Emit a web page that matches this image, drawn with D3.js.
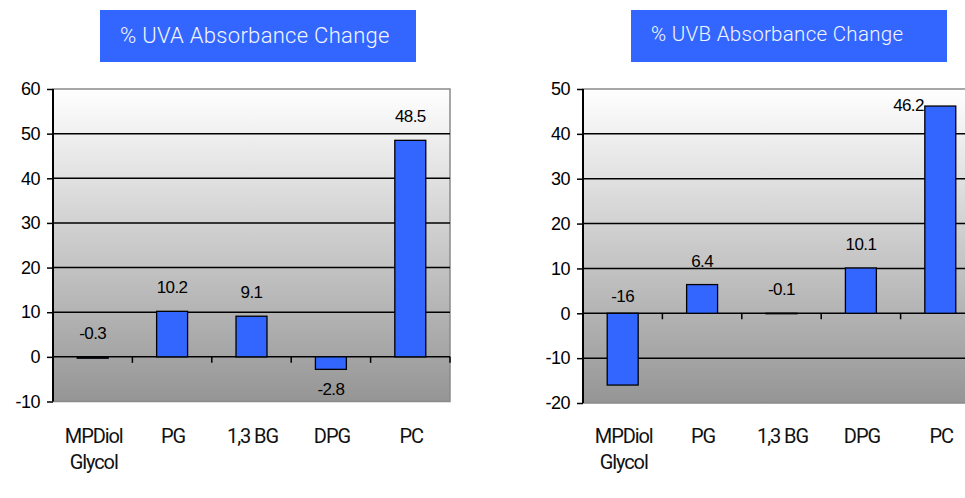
<!DOCTYPE html>
<html>
<head>
<meta charset="utf-8">
<script src="https://cdn.jsdelivr.net/npm/d3@7/dist/d3.min.js"></script>
<style>
  html, body { margin: 0; padding: 0; background: #ffffff; }
  svg { display: block; }
</style>
</head>
<body>
<svg id="chart" width="965" height="498"></svg>
<script>
// ---- data ----
const categoryLines = [["MPDiol", "Glycol"], ["PG"], ["1,3 BG"], ["DPG"], ["PC"]];
const uvaTitle = "% UVA Absorbance Change";
const uvbTitle = "% UVB Absorbance Change";
const uvaValues = [-0.3, 10.2, 9.1, -2.8, 48.5];
const uvbValues = [-16, 6.4, -0.1, 10.1, 46.2];
const uvaTicks = [-10, 0, 10, 20, 30, 40, 50, 60];
const uvbTicks = [-20, -10, 0, 10, 20, 30, 40, 50];
const uvaLabelModes = ["above", "above", "above", "below", "above"];
const uvbLabelModes = ["zero", "above", "above", "above", "left"];

const svg = d3.select("#chart");
const defs = svg.append("defs");
const grad = defs.append("linearGradient")
  .attr("id", "bg").attr("x1", 0).attr("y1", 0).attr("x2", 0).attr("y2", 1);
grad.append("stop").attr("offset", "0%").attr("stop-color", "#ffffff");
grad.append("stop").attr("offset", "100%").attr("stop-color", "#959595");

const BLUE = "#3366ff";
const fmt = d => String(d);   // plain hyphen-minus as in the reference

function drawChart(cfg) {
  const g = svg.append("g");
  const x = d3.scaleBand().domain(d3.range(cfg.values.length))
    .range([cfg.left, cfg.right]).padding(0);
  const y = d3.scaleLinear().domain(d3.extent(cfg.ticks)).range([cfg.bottom, cfg.top]);
  const yMax = d3.max(cfg.ticks), yMin = d3.min(cfg.ticks);

  // title box
  g.append("rect").attr("x", cfg.titleX).attr("y", 10).attr("width", 316).attr("height", 52)
    .attr("fill", BLUE);
  g.append("text").attr("x", cfg.titleX + 20).attr("y", cfg.titleBase)
    .attr("font-family", "Roboto, 'DejaVu Sans', sans-serif")
    .attr("font-weight", 300)
    .attr("font-size", cfg.titleSize).attr("fill", "#f4f6ff")
    .attr("letter-spacing", "0.3px")
    .text(cfg.title);

  // plot background
  g.append("rect").attr("x", cfg.left).attr("y", y(yMax))
    .attr("width", cfg.right - cfg.left).attr("height", y(yMin) - y(yMax))
    .attr("fill", "url(#bg)").attr("stroke", "#8a8a8a").attr("stroke-width", 1.5);

  // gridlines
  g.append("g").selectAll("line")
    .data(cfg.ticks.filter(t => t !== yMax && t !== yMin))
    .join("line")
    .attr("x1", cfg.left).attr("x2", cfg.right)
    .attr("y1", d => y(d)).attr("y2", d => y(d))
    .attr("stroke", "#000").attr("stroke-width", 1.5);

  // x tick marks at band boundaries
  const bounds = d3.range(1, cfg.values.length + 1).map(i => cfg.left + i * x.step());
  g.append("g").selectAll("line").data(bounds).join("line")
    .attr("x1", d => d).attr("x2", d => d)
    .attr("y1", y(0)).attr("y2", y(0) + 6)
    .attr("stroke", "#000").attr("stroke-width", 1.5);

  // bars
  const bw = x.bandwidth() * 0.39;
  g.append("g").selectAll("rect").data(cfg.values).join("rect")
    .attr("x", (d, i) => x(i) + (x.bandwidth() - bw) / 2)
    .attr("width", bw)
    .attr("y", d => y(Math.max(d, 0)))
    .attr("height", d => Math.abs(y(d) - y(0)))
    .attr("fill", BLUE).attr("stroke", "#000").attr("stroke-width", 1.3);

  // y axis
  const axis = d3.axisLeft(y).tickValues(cfg.ticks).tickSize(6).tickPadding(7)
    .tickFormat(fmt);
  const ag = g.append("g").attr("transform", `translate(${cfg.left},0)`).call(axis);
  ag.attr("font-size", null).attr("font-family", null);
  ag.select(".domain").attr("stroke", "#000").attr("stroke-width", 2)
    .attr("d", `M0,${y(yMax)}V${y(yMin)}`);
  ag.selectAll(".tick line").attr("stroke", "#000").attr("stroke-width", 1.5);
  ag.selectAll(".tick text")
    .attr("font-family", "'Liberation Sans', Arial, sans-serif")
    .attr("font-size", 18).attr("fill", "#000").attr("letter-spacing", "-0.5px");

  // data labels
  g.append("g").selectAll("text").data(cfg.values).join("text")
    .attr("font-family", "'Liberation Sans', Arial, sans-serif")
    .attr("font-size", 17).attr("fill", "#000").attr("letter-spacing", "-0.6px")
    .attr("text-anchor", (d, i) => cfg.modes[i] === "left" ? "end" : "middle")
    .attr("x", (d, i) => cfg.modes[i] === "left"
      ? x(i) + (x.bandwidth() - bw) / 2 - 1
      : x(i) + x.bandwidth() / 2)
    .attr("y", (d, i) => {
      const m = cfg.modes[i];
      if (m === "below") return y(Math.min(d, 0)) + 26;
      if (m === "zero") return y(0) - 11;
      if (m === "left") return y(Math.max(d, 0)) + 5;
      return y(Math.max(d, 0)) - 18;
    })
    .text(fmt);

  // category labels
  const cg = g.append("g").selectAll("text").data(categoryLines).join("text")
    .attr("font-family", "Roboto, 'DejaVu Sans', sans-serif")
    .attr("font-size", 20).attr("fill", "#111").attr("letter-spacing", "-1.1px")
    .attr("text-anchor", "middle")
    .attr("transform", (d, i) => `translate(${x(i) + x.bandwidth() / 2 + 1},443)`);
  cg.selectAll("tspan").data(d => d).join("tspan")
    .attr("x", 0).attr("y", (d, j) => j * 26)
    .text(d => d);
}

drawChart({
  values: uvaValues, ticks: uvaTicks, modes: uvaLabelModes, title: uvaTitle,
  left: 53, right: 450, top: 89, bottom: 401.5,
  titleX: 100, titleBase: 43, titleSize: 22
});
drawChart({
  values: uvbValues, ticks: uvbTicks, modes: uvbLabelModes, title: uvbTitle,
  left: 583, right: 980, top: 89, bottom: 403,
  titleX: 631, titleBase: 41, titleSize: 20.5
});
</script>
</body>
</html>
